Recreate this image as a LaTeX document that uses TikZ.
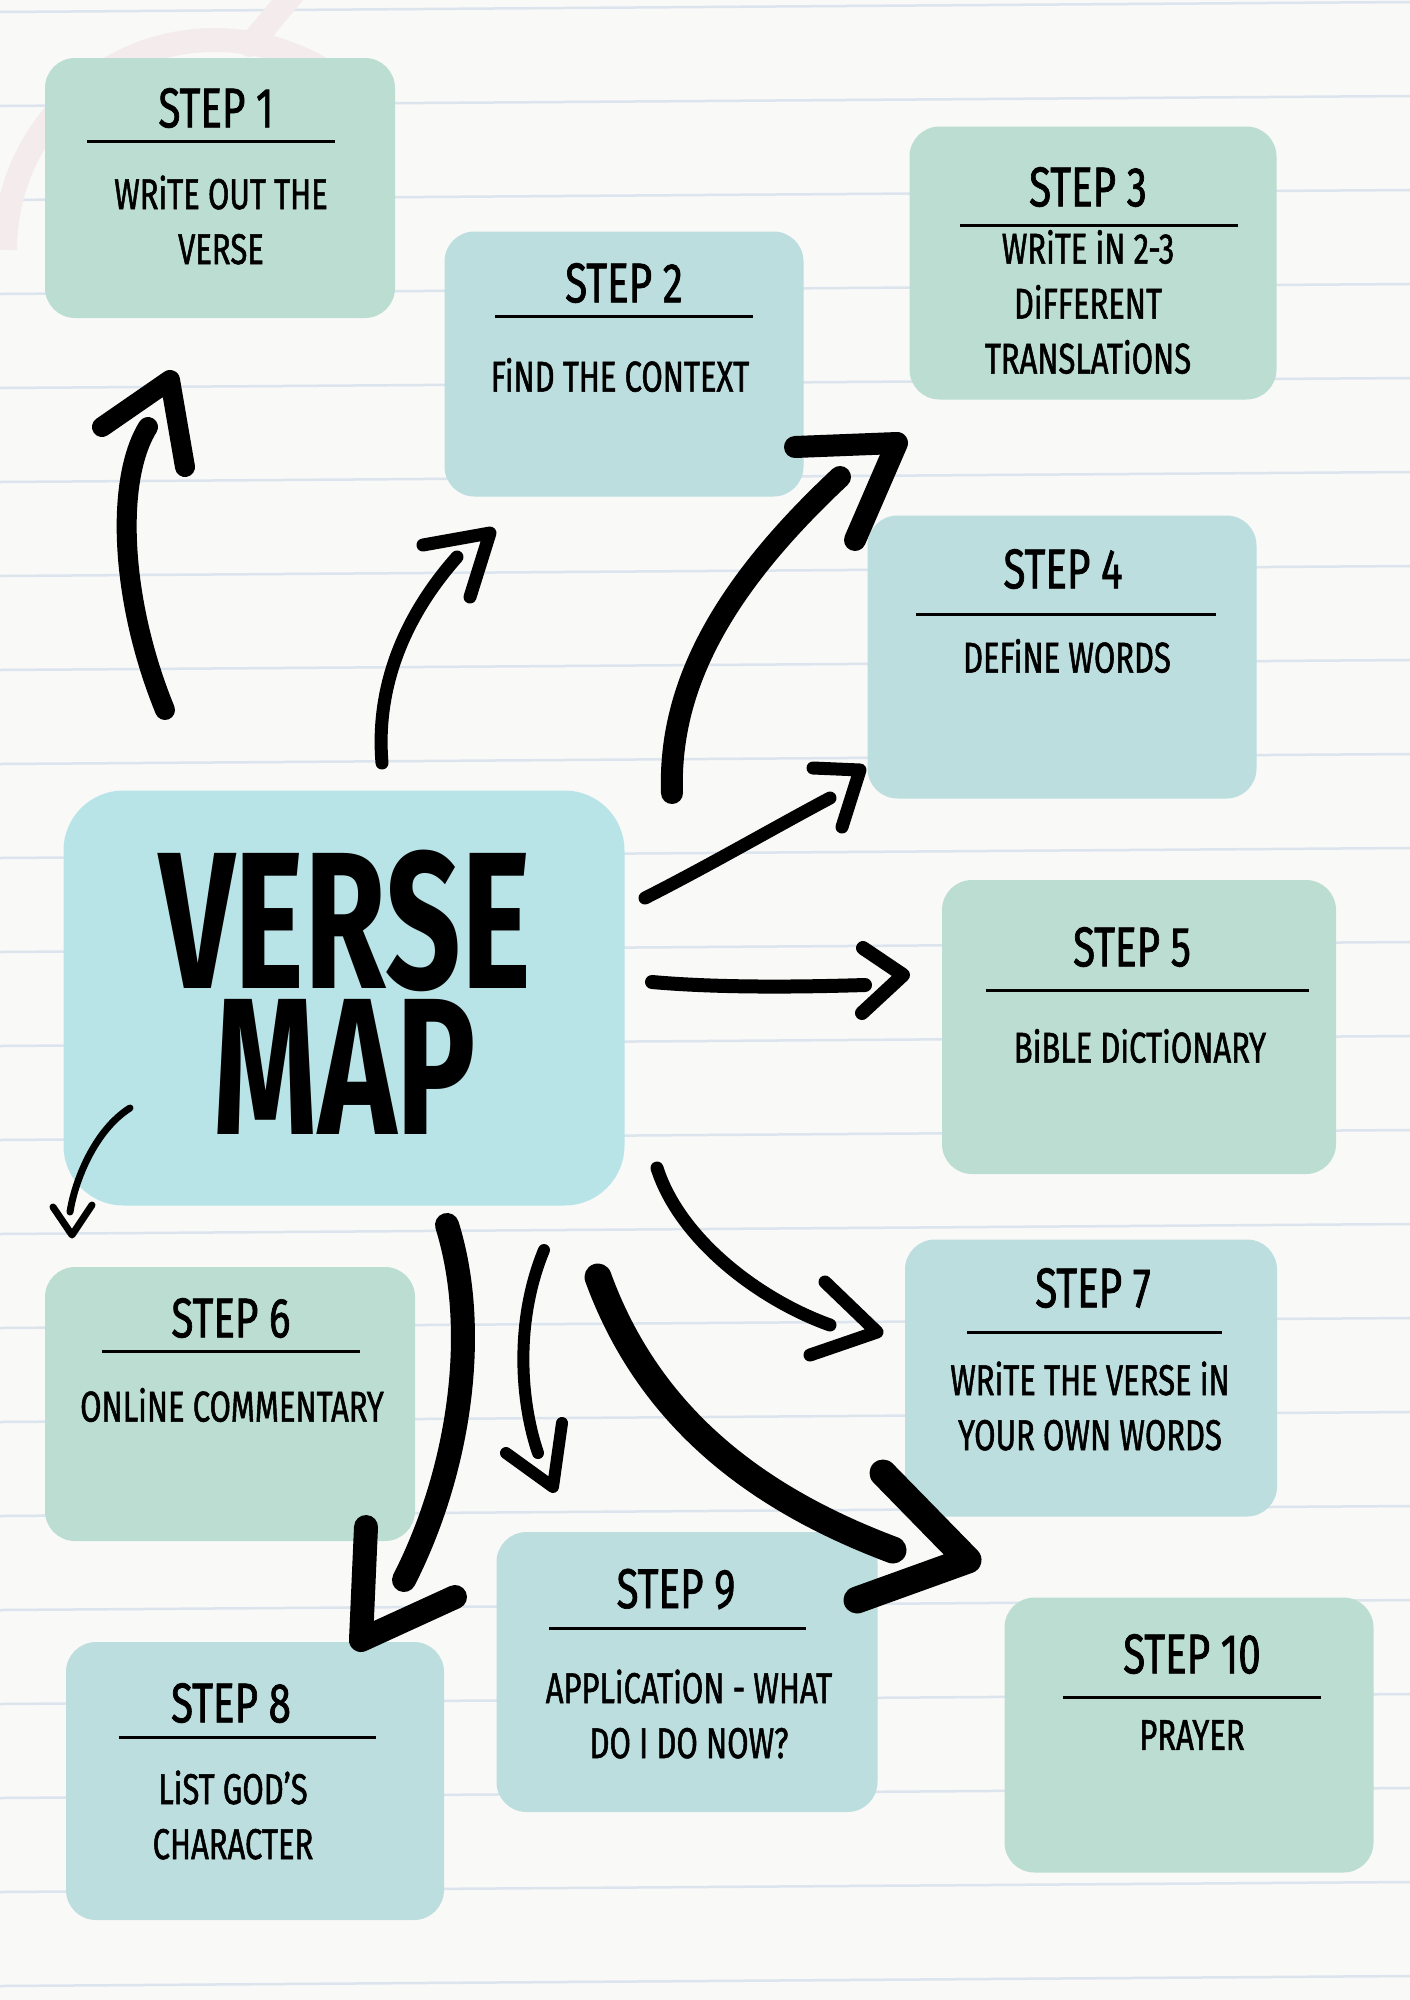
\documentclass[tikz,border=0pt]{standalone}
\usepackage{fontspec}
\newfontfamily\handfont{Fira Sans}[FakeStretch=0.72, FakeBold=1.2]
\newfontfamily\bigfont{Fira Sans}[UprightFont=* Bold, FakeStretch=0.68]
\definecolor{paper}{HTML}{F9F9F8}
\definecolor{ruleblue}{HTML}{DCE4EE}
\definecolor{boxgreen}{HTML}{BCDDD1}
\definecolor{boxblue}{HTML}{BDDEDE}
\definecolor{mapblue}{HTML}{B8E4E8}
\definecolor{ringpink}{HTML}{F4ECEC}

\begin{document}
\begin{tikzpicture}[x=1pt,y=-1pt,
    greenbox/.style={fill=boxgreen, rounded corners=30pt, inner sep=0pt},
    bluebox/.style={fill=boxblue, rounded corners=30pt, inner sep=0pt},
    maptitle/.style={font=\bigfont\fontsize{195}{146}\selectfont, inner sep=0pt},
    steptitle/.style={font=\handfont\fontsize{56}{60}\selectfont, inner sep=0pt},
    steptext/.style={font=\handfont\fontsize{43}{55}\selectfont, align=center, inner sep=0pt},
    steprule/.style={line width=3pt},
    pen/.style={line width=#1pt, line cap=round, line join=round}]
    \useasboundingbox (0,0) rectangle (1410,2000);
    \fill[paper] (0,0) rectangle (1410,2000);
    \foreach \k in {0,...,21}
        \draw[ruleblue, line width=2.5pt] (0,{12+94*\k}) -- (1410,{2+94*\k});
    \draw[ringpink, line width=24pt] (5,250) arc[start angle=180, end angle=305, radius=210];
    \draw[ringpink, line width=24pt, line cap=round] (250,45) -- (300,-15);

    \node[greenbox, minimum width=350pt, minimum height=260pt] (s1) at (220,188) {};
    \node[bluebox, minimum width=359pt, minimum height=265pt] (s2) at (624,364) {};
    \node[greenbox, minimum width=367pt, minimum height=273pt] (s3) at (1093,263) {};
    \node[bluebox, minimum width=389pt, minimum height=283pt] (s4) at (1062,657) {};
    \node[greenbox, minimum width=394pt, minimum height=294pt] (s5) at (1139,1027) {};
    \node[greenbox, minimum width=370pt, minimum height=274pt] (s6) at (230,1404) {};
    \node[bluebox, minimum width=372pt, minimum height=277pt] (s7) at (1091,1378) {};
    \node[bluebox, minimum width=378pt, minimum height=278pt] (s8) at (255,1781) {};
    \node[bluebox, minimum width=381pt, minimum height=280pt] (s9) at (687,1672) {};
    \node[greenbox, minimum width=369pt, minimum height=275pt] (s10) at (1189,1735) {};
    \node[fill=mapblue, rounded corners=60pt, minimum width=561pt, minimum height=415pt] (vm) at (344,998) {};

    \node[maptitle] (vmverse) at (345,921) {VERSE};
    \node[maptitle] (vmmap) at (345,1067) {MAP};

    \node[steptitle] (s1title) at (216,108) {STEP 1};
    \draw[steprule] (87,141) -- (335,141);
    \node[steptext] (s1text) at (221,220) {WRiTE OUT THE\\VERSE};

    \node[steptitle] (s2title) at (624,283) {STEP 2};
    \draw[steprule] (495,316) -- (753,316);
    \node[steptext] (s2text) at (620,375) {FiND THE CONTEXT};

    \node[steptitle] (s3title) at (1088,187) {STEP 3};
    \draw[steprule] (960,225) -- (1238,225);
    \node[steptext] (s3text) at (1088,302) {WRiTE iN 2-3\\DiFFERENT\\TRANSLATiONS};

    \node[steptitle] (s4title) at (1063,569) {STEP 4};
    \draw[steprule] (916,614) -- (1216,614);
    \node[steptext] (s4text) at (1067,656) {DEFiNE WORDS};

    \node[steptitle] (s5title) at (1132,947) {STEP 5};
    \draw[steprule] (986,990) -- (1309,990);
    \node[steptext] (s5text) at (1140,1046) {BiBLE DiCTiONARY};

    \node[steptitle] (s6title) at (231,1318) {STEP 6};
    \draw[steprule] (102,1351) -- (360,1351);
    \node[steptext] (s6text) at (232,1405) {ONLiNE COMMENTARY};

    \node[steptitle] (s7title) at (1093,1288) {STEP 7};
    \draw[steprule] (967,1332) -- (1222,1332);
    \node[steptext] (s7text) at (1090,1406) {WRiTE THE VERSE iN\\YOUR OWN WORDS};

    \node[steptitle] (s8title) at (231,1703) {STEP 8};
    \draw[steprule] (119,1737) -- (376,1737);
    \node[steptext] (s8text) at (233,1815) {LiST GOD’S\\CHARACTER};

    \node[steptitle] (s9title) at (676,1589) {STEP 9};
    \draw[steprule] (549,1628) -- (806,1628);
    \node[steptext] (s9text) at (689,1714) {APPLiCATiON - WHAT\\DO I DO NOW?};

    \node[steptitle] (s10title) at (1192,1654) {STEP 10};
    \draw[steprule] (1063,1697) -- (1321,1697);
    \node[steptext] (s10text) at (1192,1735) {PRAYER};

    \coordinate (a1from) at (165,710);   \coordinate (a1to) at (148,427);   \coordinate (a1tip) at (170,380);
    \coordinate (a2from) at (382,763);   \coordinate (a2to) at (457,557);   \coordinate (a2tip) at (490,533);
    \coordinate (a3from) at (672,793);   \coordinate (a3to) at (840,477);   \coordinate (a3tip) at (897,443);
    \coordinate (a4from) at (645,898);   \coordinate (a4to) at (830,798);   \coordinate (a4tip) at (860,770);
    \coordinate (a5from) at (652,982);   \coordinate (a5to) at (865,985);   \coordinate (a5tip) at (903,975);
    \coordinate (a6from) at (130,1108);  \coordinate (a6to) at (70,1212);   \coordinate (a6tip) at (72,1235);
    \coordinate (a7from) at (657,1168);  \coordinate (a7to) at (830,1325);  \coordinate (a7tip) at (877,1332);
    \coordinate (a8from) at (447,1225);  \coordinate (a8to) at (404,1580);  \coordinate (a8tip) at (361,1640);
    \coordinate (a9from) at (544,1250);  \coordinate (a9to) at (538,1453);  \coordinate (a9tip) at (553,1487);
    \coordinate (a10from) at (598,1277); \coordinate (a10to) at (893,1550); \coordinate (a10tip) at (968,1560);

    \draw[pen=20] (a1from) .. controls (120,600) and (115,480) .. (a1to);
    \draw[pen=20] ([shift={(-68,47)}]a1tip) -- (a1tip) -- ([shift={(15,87)}]a1tip);
    \draw[pen=13] (a2from) .. controls (375,680) and (410,610) .. (a2to);
    \draw[pen=13] ([shift={(-67,12)}]a2tip) -- (a2tip) -- ([shift={(-20,64)}]a2tip);
    \draw[pen=22] (a3from) .. controls (668,680) and (730,580) .. (a3to);
    \draw[pen=22] ([shift={(-102,4)}]a3tip) -- (a3tip) -- ([shift={(-42,97)}]a3tip);
    \draw[pen=13] (a4from) .. controls (710,865) and (770,830) .. (a4to);
    \draw[pen=13] ([shift={(-47,-2)}]a4tip) -- (a4tip) -- ([shift={(-18,57)}]a4tip);
    \draw[pen=14] (a5from) .. controls (720,988) and (800,987) .. (a5to);
    \draw[pen=14] ([shift={(-40,-27)}]a5tip) -- (a5tip) -- ([shift={(-41,38)}]a5tip);
    \draw[pen=7] (a6from) .. controls (95,1130) and (75,1180) .. (a6to);
    \draw[pen=7] ([shift={(-19,-28)}]a6tip) -- (a6tip) -- ([shift={(20,-30)}]a6tip);
    \draw[pen=13] (a7from) .. controls (680,1240) and (760,1300) .. (a7to);
    \draw[pen=13] ([shift={(-52,-50)}]a7tip) -- (a7tip) -- ([shift={(-67,23)}]a7tip);
    \draw[pen=24] (a8from) .. controls (480,1330) and (460,1470) .. (a8to);
    \draw[pen=24] ([shift={(5,-113)}]a8tip) -- (a8tip) -- ([shift={(94,-43)}]a8tip);
    \draw[pen=12] (a9from) .. controls (515,1320) and (520,1400) .. (a9to);
    \draw[pen=12] ([shift={(-47,-34)}]a9tip) -- (a9tip) -- ([shift={(9,-64)}]a9tip);
    \draw[pen=27] (a10from) .. controls (650,1420) and (760,1500) .. (a10to);
    \draw[pen=27] ([shift={(-85,-87)}]a10tip) -- (a10tip) -- ([shift={(-111,40)}]a10tip);
\end{tikzpicture}
\end{document}
